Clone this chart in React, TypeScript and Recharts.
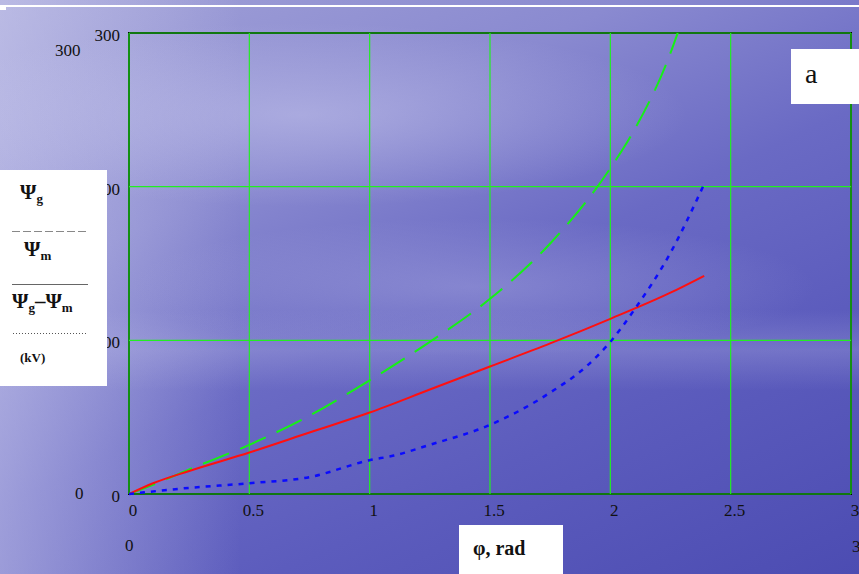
import React from 'react';
import { LineChart, Line, XAxis, YAxis, CartesianGrid } from 'recharts';

// phi, rad
const gX = [0, 0.1, 0.25, 0.5, 0.75, 1, 1.25, 1.5, 1.75, 2, 2.1, 2.25, 2.28];
// Psi_g (kV)
const gV = [0, 6, 16, 32, 51, 74, 99, 127, 163, 212, 237, 287, 300];

const mX = [0, 0.1, 0.25, 0.5, 0.75, 1, 1.25, 1.5, 1.75, 2, 2.25, 2.39];
// Psi_m (kV)
const mV = [0, 7, 15, 27, 40, 53, 68, 83, 98, 114, 131, 142];

const dX = [0, 0.25, 0.5, 0.75, 1, 1.1, 1.25, 1.5, 1.75, 1.9, 2, 2.1, 2.25, 2.385];
// Psi_g - Psi_m (kV)
const dV = [0, 4, 7, 11, 22, 25, 32, 45, 66, 83, 99, 120, 157, 200];

const xTicks = [0, 0.5, 1, 1.5, 2, 2.5, 3];
const yTicks = [0, 100, 200, 300];

const toPts = (xs: number[], vs: number[]) => xs.map((x, i) => ({ x, v: vs[i] }));

const serif = '"Liberation Serif", "Times New Roman", serif';

const bg = [
  'linear-gradient(to bottom, rgba(0,0,0,0) 54%, rgba(190,190,232,0.25) 61%, rgba(0,0,0,0) 68%)',
  'radial-gradient(ellipse 45% 16% at 35% 20%, rgba(205,205,240,0.45), rgba(0,0,0,0))',
  'radial-gradient(ellipse 40% 12% at 55% 50%, rgba(185,185,230,0.35), rgba(0,0,0,0))',
  'linear-gradient(to right, rgba(210,210,240,0.5) 0%, rgba(210,210,240,0) 28%)',
  'linear-gradient(155deg, #a2a2d8 0%, #8a8ad0 30%, #6a6ac4 52%, #5c5cbd 72%, #4c4cb2 100%)',
].join(', ');

const txt: React.CSSProperties = { position: 'absolute', fontFamily: serif, fontSize: 17, color: '#111', lineHeight: 1, whiteSpace: 'nowrap' };
const sub: React.CSSProperties = { fontSize: 13, position: 'relative', top: 4 };

export default function App() {
  return (
    <div style={{ position: 'absolute', left: 0, top: 0, width: 859, height: 574, overflow: 'hidden', background: bg, fontFamily: serif }}>
      <div style={{ position: 'absolute', left: 0, top: 5, width: 859, height: 2, background: '#fff' }} />
      <div style={{ position: 'absolute', left: 0, top: 5, width: 6, height: 5, background: '#fff' }} />
      <div style={{ position: 'absolute', left: 128, top: 32, width: 724, height: 463, boxSizing: 'border-box', border: '2px solid #000' }} />

      <div style={{ position: 'absolute', left: 0, top: 0 }}>
        <LineChart width={859} height={574} margin={{ top: 33, right: 8, bottom: 50, left: 69 }}>
          <CartesianGrid stroke="#22ee22" strokeWidth={1.2} />
          <XAxis
            type="number"
            dataKey="x"
            domain={[0, 3]}
            ticks={xTicks}
            height={30}
            axisLine={false}
            tickLine={false}
            tickSize={0}
            tickMargin={10}
            allowDataOverflow
            tick={{ fill: '#111', fontSize: 17, fontFamily: serif, dx: 4 }}
          />
          <YAxis
            type="number"
            domain={[0, 300]}
            ticks={yTicks}
            width={60}
            axisLine={false}
            tickLine={false}
            tickSize={0}
            tickMargin={9}
            tick={{ fill: '#111', fontSize: 17, fontFamily: serif, dy: 2 }}
          />
          <Line data={toPts(gX, gV)} dataKey="v" type="monotone" stroke="#16f016" strokeWidth={2} strokeDasharray="28 12" dot={false} isAnimationActive={false} />
          <Line data={toPts(mX, mV)} dataKey="v" type="monotone" stroke="#ff1010" strokeWidth={2} dot={false} isAnimationActive={false} />
          <Line data={toPts(dX, dV)} dataKey="v" type="monotone" stroke="#0a0aff" strokeWidth={2.5} strokeDasharray="5 6" dot={false} isAnimationActive={false} />
        </LineChart>
      </div>

      <div style={{ ...txt, left: 55, top: 42 }}>300</div>
      <div style={{ ...txt, left: 75, top: 485 }}>0</div>
      <div style={{ ...txt, left: 125, top: 537 }}>0</div>
      <div style={{ ...txt, left: 852, top: 538 }}>3</div>

      <div style={{ position: 'absolute', left: 0, top: 170, width: 107, height: 216, background: '#fff' }}>
        <div style={{ ...txt, left: 20, top: 12, fontWeight: 'bold', fontSize: 21 }}>Ψ<span style={sub}>g</span></div>
        <div style={{ position: 'absolute', left: 12, top: 61, width: 76, height: 1, background: 'repeating-linear-gradient(to right, #888 0 8px, rgba(0,0,0,0) 8px 11px)' }} />
        <div style={{ ...txt, left: 24, top: 69, fontWeight: 'bold', fontSize: 21 }}>Ψ<span style={sub}>m</span></div>
        <div style={{ position: 'absolute', left: 12, top: 114, width: 76, height: 1, background: '#666' }} />
        <div style={{ ...txt, left: 12, top: 121, fontWeight: 'bold', fontSize: 21 }}>Ψ<span style={sub}>g</span>–Ψ<span style={sub}>m</span></div>
        <div style={{ position: 'absolute', left: 13, top: 163, width: 73, height: 1, background: 'repeating-linear-gradient(to right, #555 0 1px, rgba(0,0,0,0) 1px 3px)' }} />
        <div style={{ ...txt, left: 20, top: 181, fontWeight: 'bold', fontSize: 13 }}>(kV)</div>
      </div>

      <div style={{ position: 'absolute', left: 791, top: 49, width: 68, height: 55, background: '#fff' }}>
        <div style={{ ...txt, left: 14, top: 11, fontSize: 28 }}>a</div>
      </div>

      <div style={{ position: 'absolute', left: 459, top: 525, width: 104, height: 49, background: '#fff' }}>
        <div style={{ ...txt, left: 14, top: 13, fontSize: 20, fontWeight: 'bold' }}>φ, rad</div>
      </div>
    </div>
  );
}
